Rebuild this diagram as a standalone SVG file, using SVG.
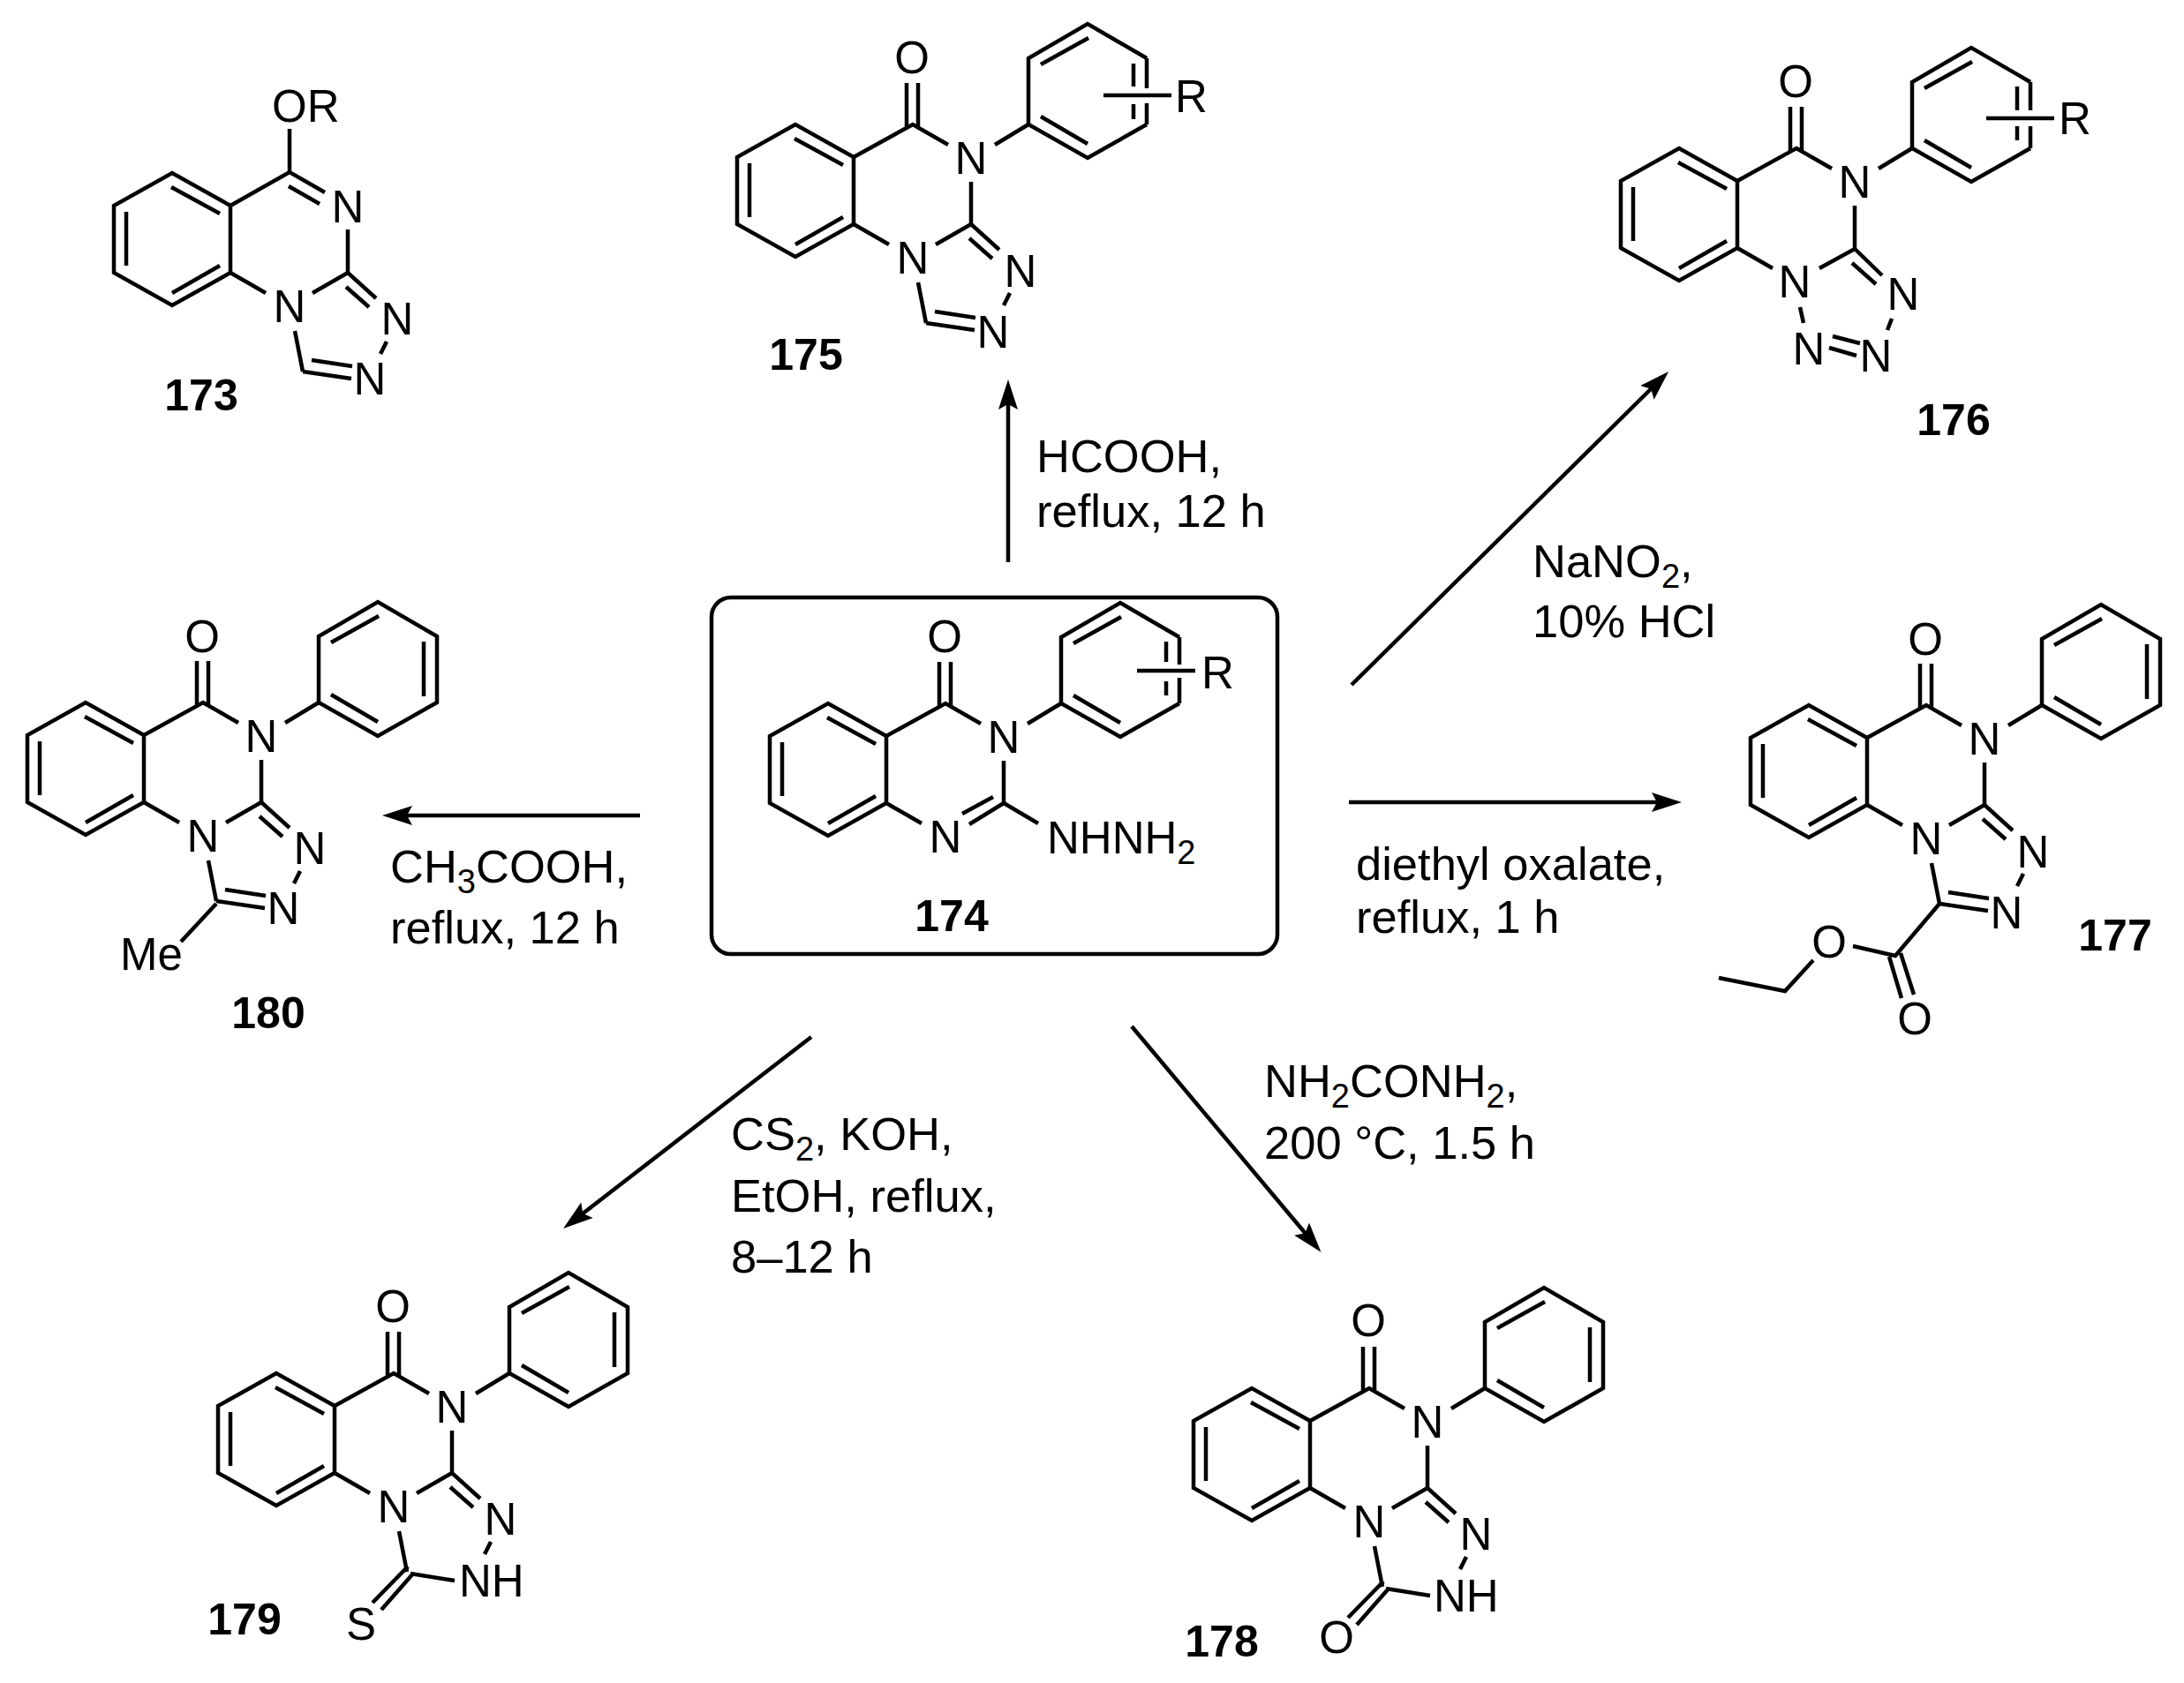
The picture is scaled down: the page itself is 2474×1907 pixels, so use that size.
<svg xmlns="http://www.w3.org/2000/svg" xmlns:xlink="http://www.w3.org/1999/xlink" width="2474" height="1907" viewBox="0 0 2474 1907">
<style>
.b{fill:none;stroke:#000;stroke-width:4.5;stroke-linejoin:miter}
.a{fill:none;stroke:#000;stroke-width:4.5}
.box{fill:none;stroke:#000;stroke-width:4.5}
text{font-family:"Liberation Sans",Arial,sans-serif;fill:#000}
.at{font-size:51px;text-anchor:middle}
.at0{font-size:51px}
.num{font-size:50px;font-weight:bold;text-anchor:middle}
.rg{font-size:52.5px}
.s{font-size:38px}
</style>
<defs>
<marker id="ah" markerUnits="userSpaceOnUse" markerWidth="34" markerHeight="22" refX="24" refY="11" orient="auto" overflow="visible"><path d="M34 11L0 0L6 11L0 22Z" fill="#000"/></marker>
<path id="benz" class="b" d="M0 0L-66 -37L-132 0L-132 76L-66 113L0 76ZM-67 -21L-12 9M-118 7L-118 68M-66 99L-12 68"/>
<path id="pyr" class="b" d="M0 0L67 -37L107 -14M60 -84L60 -33M73 -84L73 -33M133 28L133 76M160 -14L198 -37M0 76L40 99"/>
<path id="ph" class="b" d="M198 -37L198 -112L265 -151L332 -112L332 -37L265 1ZM212 -105L266 -135M212 -46L265 -15M317 -106L317 -44"/>
<path id="phR" class="b" d="M332 -37L265 1L198 -37L198 -112L265 -151L332 -112M212 -105L266 -135M212 -46L265 -15"/>
<path id="tri" class="b" d="M93 99L133 76L165 105M131 92L157 115M73 142L82 188M177 154L170 168"/>
<path id="triCN" class="b" d="M82 188L137 196M92 175L138 182"/>
<path id="triX" class="b" d="M86 190L136 198M83 182L43 223M89 190L53 231"/>
</defs>

<g id="connectors">
<path class="a" marker-end="url(#ah)" d="M1142 637L1142 440"/>
<path class="a" marker-end="url(#ah)" d="M1531 776L1883 428"/>
<path class="a" marker-end="url(#ah)" d="M1528 909L1895 909"/>
<path class="a" marker-end="url(#ah)" d="M725 924L443 924"/>
<path class="a" marker-end="url(#ah)" d="M919 1175L646 1386"/>
<path class="a" marker-end="url(#ah)" d="M1282 1163L1490 1411"/>
</g>

<g id="compound-173" transform="translate(261 233)">
<use href="#benz"/>
<path class="b" d="M0 0L67 -38L107 -15M66 -22L101 -2M67 -87L67 -38M133 27L133 76M0 76L40 99"/>
<use href="#tri"/><use href="#triCN"/>
<text class="at0" x="47" y="-95">OR</text>
<text class="at" x="133" y="19">N</text>
<text class="at" x="67" y="132">N</text>
<text class="at" x="189" y="146">N</text>
<text class="at" x="158" y="214">N</text>
<text class="num" x="-33" y="232">173</text>
</g>

<g id="compound-174">
<rect class="box" x="806" y="677" width="641" height="404" rx="22"/>
<g transform="translate(1004 834)">
<use href="#benz"/><use href="#pyr"/><use href="#phR"/>
<path class="b" d="M332 -112L332 -81M332 -66L332 -37M317 -107L317 -84M317 -62L317 -46M284 -74L350 -74M133 76L94 100M121 69L86 88M133 76L172 99"/>
<text class="at" x="66" y="-95">O</text>
<text class="at" x="133" y="19">N</text>
<text class="at" x="67" y="132">N</text>
<text class="at0" x="357" y="-54">R</text>
<text class="at0" x="182" y="133">NHNH<tspan class="s" dy="12">2</tspan></text>
<text class="num" x="74" y="221">174</text>
</g>
</g>

<g id="compound-175" transform="translate(967 178)">
<use href="#benz"/><use href="#pyr"/><use href="#phR"/><use href="#tri"/><use href="#triCN"/>
<path class="b" d="M332 -112L332 -78M332 -61L332 -37M317 -106L317 -80M317 -60L317 -43M283 -70L360 -70"/>
<text class="at" x="66" y="-95">O</text>
<text class="at" x="133" y="19">N</text>
<text class="at" x="67" y="132">N</text>
<text class="at" x="189" y="147">N</text>
<text class="at" x="158" y="216">N</text>
<text class="at0" x="364" y="-51">R</text>
<text class="num" x="-54" y="241">175</text>
</g>

<g id="compound-176" transform="translate(1968 205)">
<use href="#benz"/><use href="#pyr"/><use href="#phR"/>
<path class="b" d="M332 -112L332 -80M332 -62L332 -37M317 -107L317 -80M317 -62L317 -46M282 -71L359 -71M93 99L133 77L164 107M130 93L157 117M71 143L75 161M108 176L139 184M104 189L135 198M175 156L170 169"/>
<text class="at" x="66" y="-95">O</text>
<text class="at" x="133" y="19">N</text>
<text class="at" x="65" y="132">N</text>
<text class="at" x="188" y="146">N</text>
<text class="at" x="81" y="208">N</text>
<text class="at" x="157" y="216">N</text>
<text class="at0" x="364" y="-53">R</text>
<text class="num" x="245" y="288">176</text>
</g>

<g id="compound-177" transform="translate(2115 836)">
<use href="#benz"/><use href="#pyr"/><use href="#ph"/><use href="#tri"/><use href="#triCN"/>
<path class="b" d="M82 188L32 247L-16 236M-61 252L-93 287L-168 272M25 248L39 295M38 244L53 291"/>
<text class="at" x="66" y="-94">O</text>
<text class="at" x="133" y="19">N</text>
<text class="at" x="67" y="132">N</text>
<text class="at" x="188" y="147">N</text>
<text class="at" x="158" y="216">N</text>
<text class="at" x="-43" y="249">O</text>
<text class="at" x="54" y="336">O</text>
<text class="num" x="281" y="241">177</text>
</g>

<g id="compound-178" transform="translate(1484 1610)">
<use href="#benz"/><use href="#pyr"/><use href="#ph"/><use href="#tri"/><use href="#triX"/>
<text class="at" x="66" y="-96">O</text>
<text class="at" x="133" y="19">N</text>
<text class="at" x="67" y="132">N</text>
<text class="at" x="188" y="146">N</text>
<text class="at0" x="140" y="216">NH</text>
<text class="at" x="30" y="263">O</text>
<text class="num" x="-100" y="267">178</text>
</g>

<g id="compound-179" transform="translate(379 1593)">
<use href="#benz"/><use href="#pyr"/><use href="#ph"/><use href="#tri"/><use href="#triX"/>
<text class="at" x="66" y="-95">O</text>
<text class="at" x="133" y="19">N</text>
<text class="at" x="67" y="132">N</text>
<text class="at" x="188" y="146">N</text>
<text class="at0" x="141" y="216">NH</text>
<text class="at" x="30" y="265">S</text>
<text class="num" x="-102" y="259">179</text>
</g>

<g id="compound-180" transform="translate(163 833)">
<use href="#benz"/><use href="#pyr"/><use href="#ph"/><use href="#tri"/><use href="#triCN"/>
<path class="b" d="M82 191L42 234"/>
<text class="at" x="66" y="-94">O</text>
<text class="at" x="133" y="19">N</text>
<text class="at" x="67" y="132">N</text>
<text class="at" x="188" y="146">N</text>
<text class="at" x="158" y="214">N</text>
<text class="at0" x="-27" y="266">Me</text>
<text class="num" x="141" y="332">180</text>
</g>

<g id="reagents">
<text class="rg" x="1174" y="535">HCOOH,</text>
<text class="rg" x="1174" y="597">reflux, 12 h</text>
<text class="rg" x="1736" y="654">NaNO<tspan class="s" dy="12">2</tspan><tspan dy="-12">,</tspan></text>
<text class="rg" x="1736" y="722">10% HCl</text>
<text class="rg" x="1536" y="997">diethyl oxalate,</text>
<text class="rg" x="1536" y="1057">reflux, 1 h</text>
<text class="rg" x="442" y="1000">CH<tspan class="s" dy="12">3</tspan><tspan dy="-12">COOH,</tspan></text>
<text class="rg" x="442" y="1069">reflux, 12 h</text>
<text class="rg" x="828" y="1303">CS<tspan class="s" dy="12">2</tspan><tspan dy="-12">, KOH,</tspan></text>
<text class="rg" x="828" y="1373">EtOH, reflux,</text>
<text class="rg" x="828" y="1442">8–12 h</text>
<text class="rg" x="1432" y="1243">NH<tspan class="s" dy="12">2</tspan><tspan dy="-12">CONH</tspan><tspan class="s" dy="12">2</tspan><tspan dy="-12">,</tspan></text>
<text class="rg" x="1432" y="1313">200 °C, 1.5 h</text>
</g>
</svg>
